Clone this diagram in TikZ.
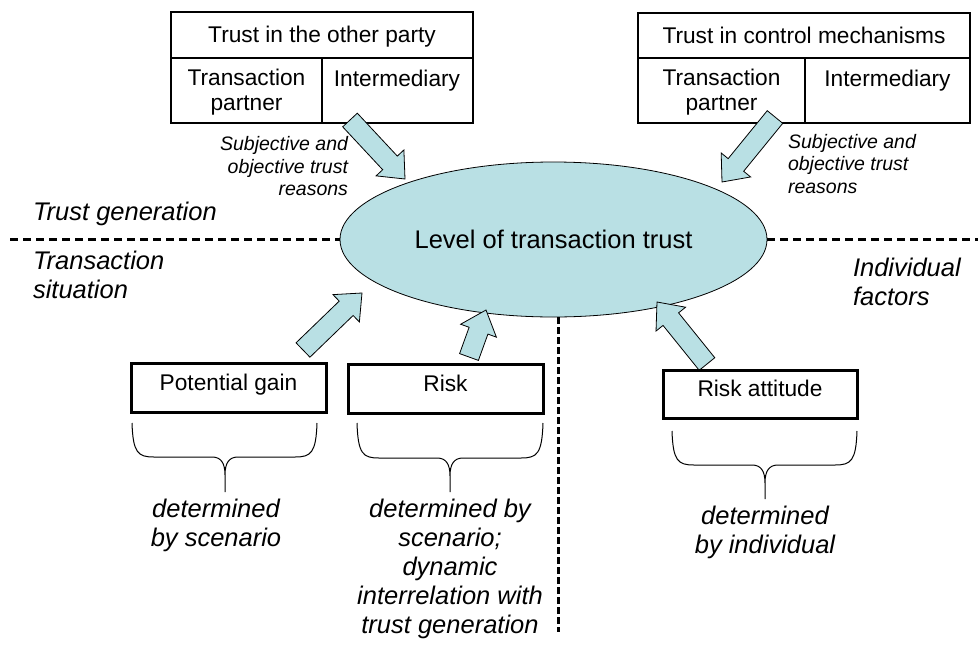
\documentclass[tikz,border=0pt]{standalone}
\usepackage{fontspec}
\setmainfont{Liberation Sans}
\usetikzlibrary{calc,shapes.geometric}
\definecolor{trustblue}{RGB}{185,224,228}
\tikzset{
  tabfont/.style={font=\fontsize{22.7}{25}\selectfont},
  smallit/.style={font=\fontsize{19.5}{22.5}\selectfont\itshape},
  bigit/.style={font=\fontsize{25.5}{29}\selectfont\itshape},
  lvlfont/.style={font=\fontsize{25.5}{29}\selectfont},
  outerline/.style={line width=2.7pt},
  innerline/.style={line width=1.2pt},
  boxline/.style={draw, line width=3pt},
  blockarrowstyle/.style={fill=trustblue, draw=black, line width=0.8pt, line join=miter},
  bracestyle/.style={draw, line width=1pt},
  sepdash/.style={draw, line width=2.6pt, dash pattern=on 8pt off 5pt},
  vdash/.style={draw, line width=3pt, dash pattern=on 6.5pt off 3.5pt},
  txt/.style={inner sep=0pt, outer sep=0pt},
}
\newcommand\blockarrow[2]{%
  \coordinate (#1h) at ($(#2)!22pt!(#1)$);
  \filldraw[blockarrowstyle] ($(#1)!10pt!90:(#2)$) -- ($(#1h)!10pt!90:(#2)$)
    -- ($(#1h)!19pt!90:(#2)$) -- (#2) -- ($(#1h)!19pt!-90:(#2)$)
    -- ($(#1h)!10pt!-90:(#2)$) -- ($(#1)!10pt!-90:(#2)$) -- cycle;
}
\newcommand\mybrace[6]{%
  \draw[bracestyle] (#1,#4) .. controls (#1+1,#5-4) and (#1+6,#5) .. (#1+22,#5)
    -- (#3-13,#5) .. controls (#3-4,#5) and (#3,#5+6) .. (#3,#5+18) -- (#3,#6)
    -- (#3,#5+18) .. controls (#3,#5+6) and (#3+4,#5) .. (#3+13,#5)
    -- (#2-22,#5) .. controls (#2-6,#5) and (#2-1,#5-4) .. (#2,#4);
}
\begin{document}
\begin{tikzpicture}[x=1pt,y=-1pt]
\useasboundingbox (0,0) rectangle (978,646);

% tables
\draw[innerline] (171,58) -- (473,58) (322,58) -- (322,123);
\draw[outerline] (171,12) rectangle (473,123);
\draw[innerline] (638,58) -- (970,58) (805,58) -- (805,123);
\draw[outerline] (638,13) rectangle (970,123);

\node[txt,tabfont,anchor=base] (h1) at (322,42) {Trust in the other party};
\node[txt,tabfont,anchor=base] (h2) at (804,43) {Trust in control mechanisms};
\node[txt,tabfont,anchor=north,align=center] (tp1) at (246.5,69.5) {Transaction\\partner};
\node[txt,tabfont,anchor=base] (im1) at (397,86) {Intermediary};
\node[txt,tabfont,anchor=north,align=center] (tp2) at (721.5,69.5) {Transaction\\partner};
\node[txt,tabfont,anchor=base] (im2) at (887.5,86) {Intermediary};

% separators
\node[ellipse, draw=black, line width=0.8pt, fill=trustblue, minimum width=427pt, minimum height=155pt, inner sep=0pt, lvlfont] (lvl) at (553.5,239.5) {Level of transaction trust};
\draw[sepdash] (10,239.5) -- (lvl.west);
\draw[sepdash] (lvl.east) -- (978,239.5);
\coordinate (vtop) at (558,317);
\coordinate (vbot) at (558,632);
\draw[vdash] (vtop) -- (vbot);

% block arrows
\coordinate (a1t) at (350,120); \coordinate (a1p) at (405,179);
\coordinate (a2t) at (775,117); \coordinate (a2p) at (722,182);
\coordinate (a3t) at (303,350); \coordinate (a3p) at (362,293);
\coordinate (a4t) at (469,357); \coordinate (a4p) at (486,310);
\coordinate (a5t) at (707,364); \coordinate (a5p) at (657,302);
\blockarrow{a1t}{a1p}
\blockarrow{a2t}{a2p}
\blockarrow{a3t}{a3p}
\blockarrow{a4t}{a4p}
\blockarrow{a5t}{a5p}

% small labels
\node[txt,smallit,anchor=north east,align=right] (sr1) at (348,136.5) {Subjective and\\objective trust\\reasons};
\node[txt,smallit,anchor=north west,align=left] (sr2) at (788,134) {Subjective and\\objective trust\\reasons};

% region labels
\node[txt,bigit,anchor=base west] (tg) at (33,220) {Trust generation};
\node[txt,bigit,anchor=north west,align=left] (ts) at (33,251.5) {Transaction\\situation};
\node[txt,bigit,anchor=north west,align=left] (if) at (853,258.5) {Individual\\factors};

% boxes
\draw[boxline] (131,363) rectangle (326,412);
\draw[boxline] (348,364) rectangle (543,413);
\draw[boxline] (663,370) rectangle (857,418);
\node[txt,tabfont,anchor=base] (pg) at (228.5,390) {Potential gain};
\node[txt,tabfont,anchor=base] (rk) at (445.5,391.5) {Risk};
\node[txt,tabfont,anchor=base] (ra) at (760,396.5) {Risk attitude};

% braces
\mybrace{132}{317}{225}{423}{457}{492}
\mybrace{357}{543}{450}{423}{458}{492}
\mybrace{672}{857}{765}{431}{465}{499}

% bottom texts
\node[txt,bigit,anchor=north,align=center] (d1) at (216,499.5) {determined\\by scenario};
\node[txt,bigit,anchor=north,align=center] (d2) at (450,499.5) {determined by\\scenario;\\dynamic\\interrelation with\\trust generation};
\node[txt,bigit,anchor=north,align=center] (d3) at (765,506.5) {determined\\by individual};
\end{tikzpicture}
\end{document}
